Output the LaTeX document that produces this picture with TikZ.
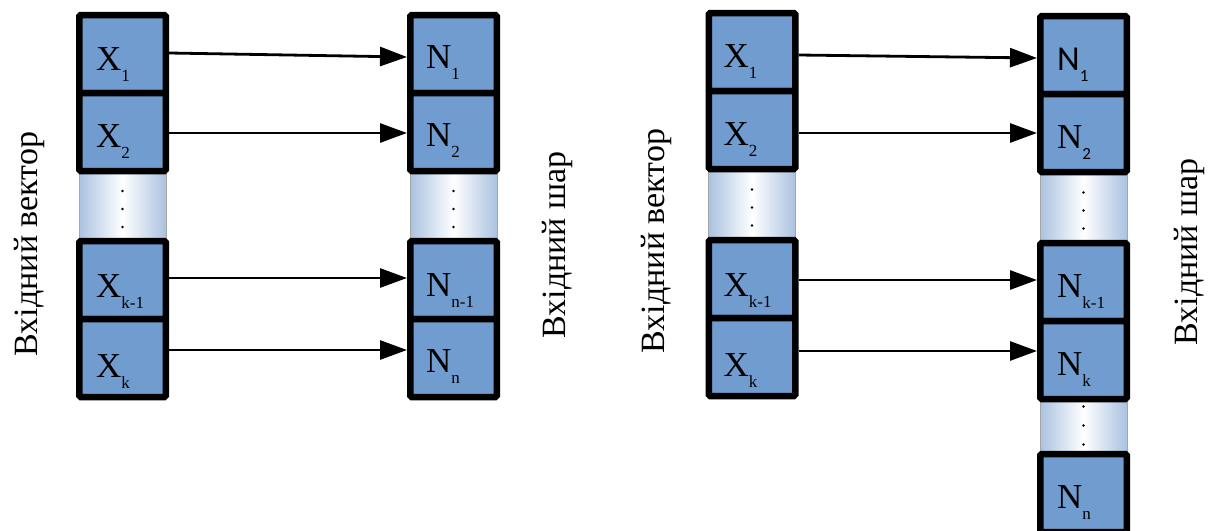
\documentclass[tikz,border=0pt]{standalone}
\usepackage{fontspec}
\setmainfont{Liberation Serif}
\newfontfamily\carl{Carlito}
\usetikzlibrary{arrows.meta,calc}
\definecolor{cellblue}{RGB}{112,156,207}
\definecolor{gapblue}{RGB}{170,194,224}
\newcommand{\sbs}[1]{\raisebox{-11pt}{\fontsize{17}{17}\selectfont #1}}
\tikzset{
 cell/.style={draw=black, line width=6.5pt, fill=cellblue, rounded corners=1.5pt, minimum width=86.5pt, minimum height=78pt, inner sep=0pt},
 gapbox/.style={draw=gray!70, line width=0.8pt, left color=gapblue, right color=gapblue, middle color=white, minimum width=87pt, inner sep=0pt},
 lbl/.style={anchor=base west, font=\fontsize{35}{35}\selectfont, inner sep=0pt},
 side/.style={rotate=90, font=\fontsize{34}{34}\selectfont, inner sep=0pt},
 arr/.style={line width=2.8pt, -{Triangle[length=27pt,width=19pt]}},
 dotmark/.style={fill=black}
}
\begin{document}
\begin{tikzpicture}[x=1pt,y=-1pt]
\useasboundingbox (0,0) rectangle (1215,530);
\clip (0,0) rectangle (1215,530);
\fill[white] (0,0) rectangle (1215,530);

% ---------- left panel ----------
\node[gapbox, minimum height=70pt] (gLX) at (122.5,206) {};
\node[gapbox, minimum height=70pt] (gLN) at (453.5,206) {};
\node[cell] (LX1) at (122.5,54) {};
\node[cell] (LX2) at (122.5,132) {};
\node[cell] (LXk1) at (122.5,280) {};
\node[cell] (LXk) at (122.5,358) {};
\node[cell] (LN1) at (453.5,54) {};
\node[cell] (LN2) at (453.5,132) {};
\node[cell] (LNn1) at (453.5,280) {};
\node[cell] (LNn) at (453.5,358) {};

\node[lbl] (tLX1) at ($(LX1.north west)+(20,59)$) {X\sbs{1}};
\node[lbl] (tLX2) at ($(LX2.north west)+(20,58)$) {X\sbs{2}};
\node[lbl] (tLXk1) at ($(LXk1.north west)+(20,60)$) {X\sbs{k-1}};
\node[lbl] (tLXk) at ($(LXk.north west)+(20,62)$) {X\sbs{k}};
\node[lbl] (tLN1) at ($(LN1.north west)+(19,57)$) {N\sbs{1}};
\node[lbl] (tLN2) at ($(LN2.north west)+(19,57)$) {N\sbs{2}};
\node[lbl] (tLNn1) at ($(LNn1.north west)+(19,59)$) {N\sbs{n-1}};
\node[lbl] (tLNn) at ($(LNn.north west)+(19,57)$) {N\sbs{n}};

\foreach \g in {gLX,gLN}{
  \foreach \s in {15,-3,-21}{
    \fill[dotmark] ([yshift=\s pt]\g.center) circle (1.3pt);
  }
}

\draw[arr] ([yshift=1pt]LX1.east) -- ([yshift=-3pt]LN1.west);
\draw[arr] ([yshift=-1pt]LX2.east) -- ([yshift=-1pt]LN2.west);
\draw[arr] ([yshift=2pt]LXk1.east) -- ([yshift=2pt]LNn1.west);
\draw[arr] ([yshift=8pt]LXk.east) -- ([yshift=8pt]LNn.west);

\node[side] (sL1) at (29,244) {Вхідний вектор};
\node[side] (sL2) at (557,245) {Вхідний шар};

% ---------- right panel ----------
\node[gapbox, minimum height=71pt] (gRX) at (752,204.5) {};
\node[gapbox, minimum height=71pt] (gRN) at (1083.5,207.5) {};
\node[gapbox, minimum height=55pt] (gRN2) at (1083.5,426.5) {};
\node[cell] (RX1) at (752,52) {};
\node[cell] (RX2) at (752,130) {};
\node[cell] (RXk1) at (752,279) {};
\node[cell] (RXk) at (752,357) {};
\node[cell] (RN1) at (1083.5,55) {};
\node[cell] (RN2) at (1083.5,133) {};
\node[cell] (RNk1) at (1083.5,282) {};
\node[cell] (RNk) at (1083.5,360) {};
\node[cell] (RNn) at (1083.5,493) {};

\node[lbl] (tRX1) at ($(RX1.north west)+(18,58)$) {X\sbs{1}};
\node[lbl] (tRX2) at ($(RX2.north west)+(18,58)$) {X\sbs{2}};
\node[lbl] (tRXk1) at ($(RXk1.north west)+(18,60)$) {X\sbs{k-1}};
\node[lbl] (tRXk) at ($(RXk.north west)+(18,62)$) {X\sbs{k}};
\node[lbl] (tRN1) at ($(RN1.north west)+(20,58)$) {{\carl N\sbs{1}}};
\node[lbl] (tRN2) at ($(RN2.north west)+(20,58)$) {N{\carl\sbs{2}}};
\node[lbl] (tRNk1) at ($(RNk1.north west)+(20,58)$) {N\sbs{k-1}};
\node[lbl] (tRNk) at ($(RNk.north west)+(20,58)$) {N\sbs{k}};
\node[lbl] (tRNn) at ($(RNn.north west)+(20,58)$) {N\sbs{n}};

\foreach \g in {gRX,gRN}{
  \foreach \s in {15,-3,-21}{
    \fill[dotmark] ([yshift=\s pt]\g.center) circle (1.3pt);
  }
}
\foreach \s in {20,1,-18}{
  \fill[dotmark] ([yshift=\s pt]gRN2.center) circle (1.3pt);
}

\draw[arr] ([yshift=-3pt]RX1.east) -- ([yshift=-3pt]RN1.west);
\draw[arr] ([yshift=-3pt]RX2.east) -- ([yshift=0pt]RN2.west);
\draw[arr] ([yshift=-1pt]RXk1.east) -- ([yshift=2pt]RNk1.west);
\draw[arr] ([yshift=6pt]RXk.east) -- ([yshift=9pt]RNk.west);

\node[side] (sR1) at (656,241) {Вхідний вектор};
\node[side] (sR2) at (1189,252) {Вхідний шар};
\end{tikzpicture}
\end{document}
